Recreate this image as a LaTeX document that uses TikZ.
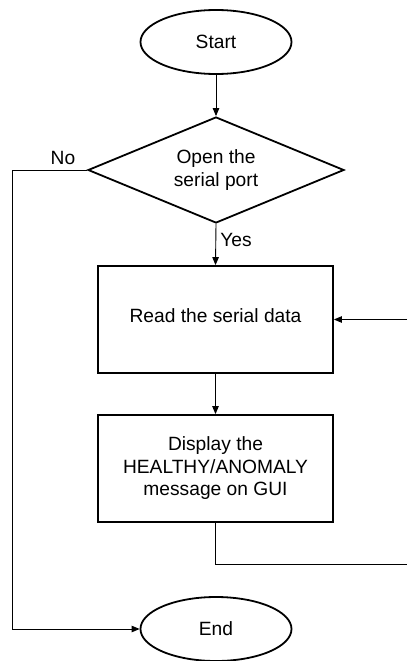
\documentclass[tikz,border=0pt]{standalone}
\usepackage{fontspec}
\setmainfont{Liberation Sans}
\usetikzlibrary{shapes.geometric,arrows.meta}
\begin{document}
\begin{tikzpicture}[x=1pt,y=-1pt,
  every node/.style={font=\fontsize{19.2}{22.5}\selectfont, inner sep=0pt},
  term/.style={ellipse, draw, line width=1.8pt, minimum width=151pt, minimum height=64pt},
  decide/.style={diamond, draw, line width=1.8pt, minimum width=256pt, minimum height=106pt, aspect=2.4, align=center},
  proc/.style={rectangle, draw, line width=1.8pt, minimum width=235pt, minimum height=107pt, align=center},
  flow/.style={line width=0.9pt, -{Triangle[length=8pt,width=6.5pt]}},
  wire/.style={line width=0.9pt}]
\useasboundingbox (0,0) rectangle (407,661);

\node[term] (start) at (216,42) {Start};
\node[decide] (open) at (216,170) {};
\node[align=center] (opentxt) at (216,170) {Open the\\serial port};
\node[proc] (read) at (215.5,319.5) {};
\node (readtxt) at (215.5,316) {Read the serial data};
\node[proc] (disp) at (215.5,468.5) {Display the\\HEALTHY/ANOMALY\\message on GUI};
\node[term] (end) at (216,629) {End};

\node (no) at (63,158) {No};
\node (yes) at (236,240) {Yes};

\coordinate (loopin) at (407,319.5);
\coordinate (loopout) at (407,564);
\coordinate (nocorner) at (12,170);
\coordinate (endcorner) at (12,629);
\coordinate (dispturn) at (215,564);

\draw[flow] (start.south) -- (open.north);
\draw[flow] (open.south) -- (read.north);
\draw[flow] (read.south) -- (disp.north);
\draw[flow] (loopin) -- (read.east);
\draw[wire] (disp.south -| dispturn) -- (dispturn) -- (loopout);
\draw[flow] (open.west) -- (nocorner) -- (endcorner) -- (end.west);
\end{tikzpicture}
\end{document}
